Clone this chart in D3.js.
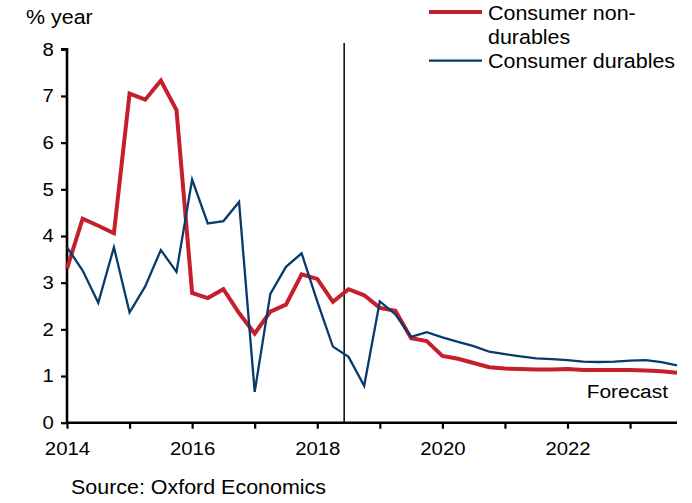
<!DOCTYPE html>
<html><head><meta charset="utf-8">
<script src="https://cdn.jsdelivr.net/npm/d3@7"></script>
<style>
html,body{margin:0;padding:0;background:#fff;}
text{font-family:"Liberation Sans",Arial,sans-serif;fill:#000;}
</style></head>
<body><svg id="c" width="692" height="503"></svg>
<script>
// Quarterly periods 2014Q1 .. 2023Q4 (decimal year)
const quarters = d3.range(40).map(i => 2014 + i * 0.25);
const nonDurables = [3.3,4.37,4.22,4.06,7.05,6.92,7.33,6.7,2.78,2.67,2.86,2.35,1.91,2.38,2.53,3.18,3.08,2.59,2.86,2.73,2.46,2.4,1.81,1.75,1.43,1.37,1.28,1.19,1.16,1.15,1.14,1.14,1.15,1.13,1.13,1.13,1.13,1.12,1.1,1.07];
const durables = [3.76,3.26,2.57,3.76,2.36,2.92,3.7,3.23,5.21,4.27,4.32,4.73,0.66,2.76,3.34,3.63,2.6,1.63,1.41,0.79,2.6,2.32,1.84,1.94,1.83,1.73,1.64,1.52,1.47,1.42,1.38,1.36,1.34,1.31,1.3,1.31,1.33,1.34,1.3,1.23];
const yTicks = [0,1,2,3,4,5,6,7,8];
const xTickYears = [2014,2015,2016,2017,2018,2019,2020,2021,2022,2023];
const xLabelYears = [2014,2016,2018,2020,2022];
const forecastStart = 2018.43;
const seriesNames = ["Consumer non-durables","Consumer durables"];
const colors = {red:"#c41f2a", blue:"#083a6c"};
const SX = 1.1;

const svg = d3.select("#c");
const x = d3.scaleLinear().domain([2014, 2023.75]).range([67, 677]);
const y = d3.scaleLinear().domain([0, 8]).range([422.7, 49.3]);

// y axis
const gy = svg.append("g").attr("transform","translate(67,0)")
  .call(d3.axisLeft(y).tickValues(yTicks).tickSize(6).tickPadding(8).tickFormat(d3.format("d")));
gy.select(".domain").attr("stroke","#000").attr("stroke-width",2.6).attr("d","M-6,"+y(8)+"H0V"+y(0));
gy.selectAll(".tick line").attr("stroke","#000").attr("stroke-width",2.2);
gy.selectAll(".tick text").attr("font-size",18.5).attr("font-family","Liberation Sans, Arial, sans-serif")
  .attr("transform",`scale(${SX},1)`).attr("x",-12);

// x axis
const gx = svg.append("g").attr("transform",`translate(0,${y(0)})`)
  .call(d3.axisBottom(x).tickValues(xTickYears).tickSize(6).tickPadding(13)
    .tickFormat(d => xLabelYears.includes(d) ? String(d) : ""));
gx.select(".domain").attr("stroke","#000").attr("stroke-width",2.6).attr("d","M"+x(2014)+",0H"+x(2023.75));
gx.selectAll(".tick line").attr("stroke","#000").attr("stroke-width",2.2);
gx.selectAll(".tick text").attr("font-size",18.5).attr("font-family","Liberation Sans, Arial, sans-serif")
  .attr("transform",`scale(${SX},1)`).attr("dy","0.71em");

// forecast line
svg.append("line").attr("x1",x(forecastStart)).attr("x2",x(forecastStart))
  .attr("y1",43).attr("y2",y(0)).attr("stroke","#000").attr("stroke-width",1.5);

const line = d3.line().x((d,i)=>x(quarters[i])).y(d=>y(d));
svg.append("path").datum(nonDurables).attr("d",line).attr("fill","none")
  .attr("stroke",colors.red).attr("stroke-width",4).attr("stroke-linejoin","miter");
svg.append("path").datum(durables).attr("d",line).attr("fill","none")
  .attr("stroke",colors.blue).attr("stroke-width",2.3).attr("stroke-linejoin","miter");

function txt(s, tx, ty, size, anchor){
  return svg.append("text").attr("transform",`translate(${tx},${ty}) scale(${SX},1)`)
    .attr("font-size",size).attr("text-anchor",anchor||"start").text(s);
}
txt("% year", 26, 24, 19.5);
txt("Forecast", 668, 398, 19, "end");
txt("Source: Oxford Economics", 71, 494, 19.5);

// legend
svg.append("line").attr("x1",429).attr("x2",482).attr("y1",12).attr("y2",12)
  .attr("stroke",colors.red).attr("stroke-width",4);
txt("Consumer non-", 488, 19.5, 19.5);
txt("durables", 488, 43.5, 19.5);
svg.append("line").attr("x1",429).attr("x2",482).attr("y1",60.7).attr("y2",60.7)
  .attr("stroke",colors.blue).attr("stroke-width",2.3);
txt("Consumer durables", 488, 67.5, 19.5);
</script></body></html>
